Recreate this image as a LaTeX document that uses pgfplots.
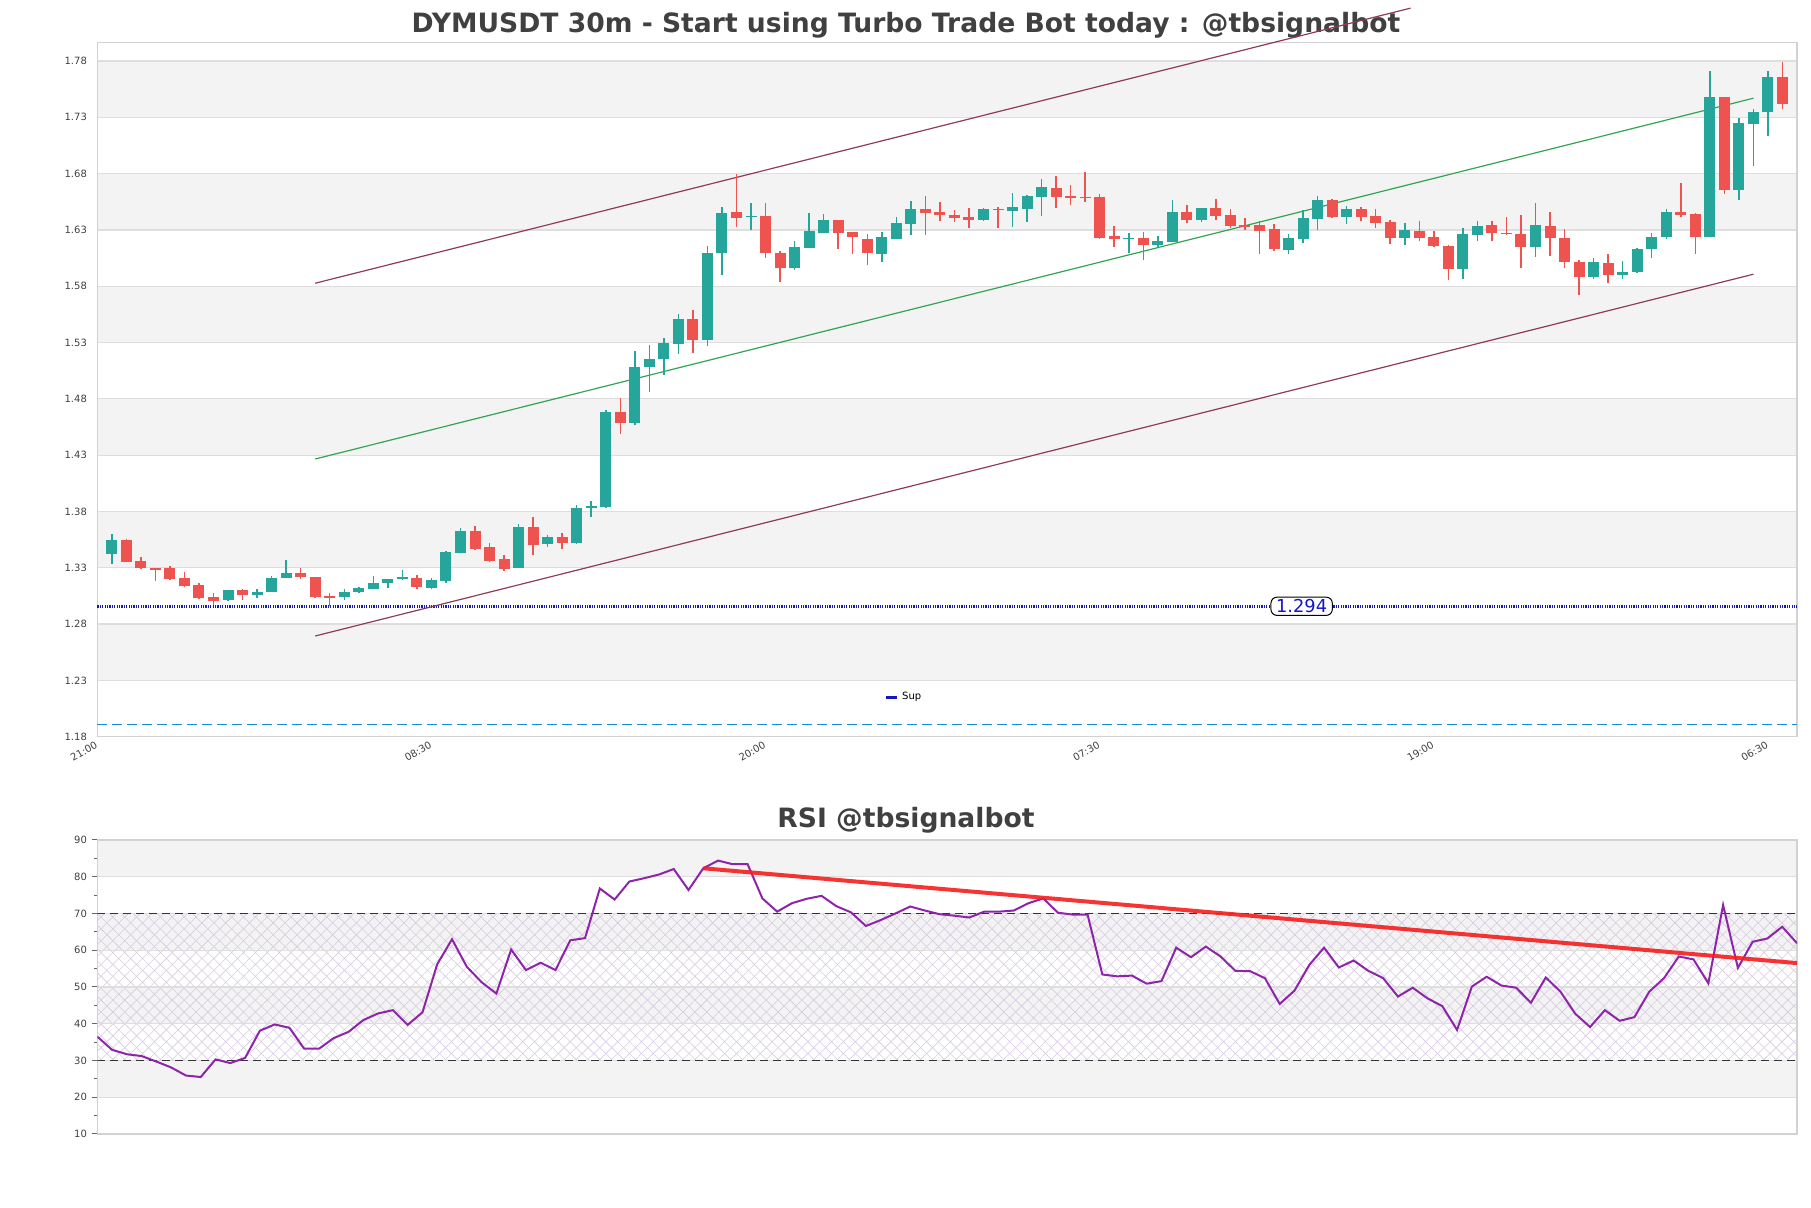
\documentclass[border=0pt]{standalone}
\usepackage{fontspec}
\setmainfont{DejaVu Sans}
\usepackage{pgfplots}
\pgfplotsset{compat=1.18}
\usepackage{pgfplotstable}
\usetikzlibrary{patterns,patterns.meta}

\definecolor{upc}{RGB}{38,166,154}
\definecolor{dnc}{RGB}{239,83,80}
\definecolor{band}{RGB}{243,243,243}
\definecolor{gridc}{RGB}{222,222,222}
\definecolor{borderc}{RGB}{210,210,210}
\definecolor{txt}{RGB}{64,64,64}
\definecolor{chan}{RGB}{140,60,90}
\definecolor{midc}{RGB}{50,165,80}
\definecolor{supc}{RGB}{20,20,200}
\definecolor{cyanl}{RGB}{25,140,215}
\definecolor{rsic}{RGB}{142,36,170}
\definecolor{hatchc}{RGB}{215,202,225}
\definecolor{trendc}{RGB}{245,30,30}

\pgfplotstableread{
i O H L C
0 1.3421 1.3602 1.3330 1.3543
8 1.3013 1.3099 1.3004 1.3099
10 1.3057 1.3116 1.3031 1.3087
11 1.3084 1.3226 1.3084 1.3211
12 1.3208 1.3365 1.3208 1.3250
16 1.3039 1.3108 1.3013 1.3087
17 1.3084 1.3131 1.3075 1.3116
18 1.3111 1.3229 1.3108 1.3167
19 1.3164 1.3202 1.3119 1.3202
20 1.3196 1.3276 1.3190 1.3214
22 1.3119 1.3211 1.3108 1.3188
23 1.3182 1.3445 1.3164 1.3436
24 1.3430 1.3649 1.3430 1.3623
28 1.3294 1.3685 1.3294 1.3658
30 1.3510 1.3587 1.3484 1.3569
32 1.3516 1.3856 1.3510 1.3830
33 1.3833 1.3892 1.3753 1.3847
34 1.3836 1.4697 1.3827 1.4682
36 1.4584 1.5224 1.4567 1.5082
37 1.5082 1.5277 1.4863 1.5153
38 1.5153 1.5345 1.5014 1.5295
39 1.5286 1.5553 1.5197 1.5508
41 1.5322 1.6162 1.5271 1.6094
42 1.6094 1.6500 1.5899 1.6449
44 1.6418 1.6538 1.6301 1.6426
47 1.5961 1.6198 1.5946 1.6148
48 1.6142 1.6449 1.6142 1.6290
49 1.6275 1.6438 1.6269 1.6387
53 1.6088 1.6281 1.6014 1.6236
54 1.6222 1.6411 1.6216 1.6361
55 1.6355 1.6556 1.6254 1.6485
60 1.6390 1.6494 1.6384 1.6485
62 1.6470 1.6630 1.6325 1.6503
63 1.6485 1.6609 1.6373 1.6600
64 1.6595 1.6751 1.6426 1.6680
70 1.6222 1.6272 1.6094 1.6231
72 1.6166 1.6242 1.6139 1.6201
73 1.6192 1.6565 1.6192 1.6458
75 1.6390 1.6494 1.6367 1.6494
81 1.6124 1.6263 1.6085 1.6228
82 1.6219 1.6476 1.6186 1.6405
83 1.6396 1.6600 1.6299 1.6565
85 1.6414 1.6512 1.6352 1.6485
89 1.6228 1.6361 1.6166 1.6299
93 1.5955 1.6319 1.5866 1.6266
94 1.6257 1.6378 1.6201 1.6337
98 1.6145 1.6535 1.6059 1.6348
102 1.5878 1.6050 1.5863 1.6018
104 1.5896 1.6021 1.5863 1.5929
105 1.5923 1.6142 1.5914 1.6134
106 1.6128 1.6276 1.6047 1.6241
107 1.6241 1.6490 1.6217 1.6455
110 1.6241 1.7712 1.6235 1.7480
112 1.6654 1.7293 1.6564 1.7248
113 1.7242 1.7373 1.6865 1.7346
114 1.7349 1.7712 1.7135 1.7658
}\upT

\pgfplotstableread{
i O H L C
1 1.3543 1.3552 1.3350 1.3350
2 1.3356 1.3398 1.3285 1.3294
3 1.3297 1.3300 1.3182 1.3279
4 1.3294 1.3315 1.3190 1.3196
5 1.3205 1.3264 1.3131 1.3137
6 1.3143 1.3167 1.3022 1.3031
7 1.3037 1.3078 1.2967 1.3004
9 1.3099 1.3108 1.3013 1.3057
13 1.3250 1.3300 1.3196 1.3217
14 1.3220 1.3220 1.3031 1.3039
15 1.3051 1.3078 1.2960 1.3037
21 1.3211 1.3238 1.3111 1.3128
25 1.3623 1.3667 1.3457 1.3469
26 1.3481 1.3516 1.3353 1.3359
27 1.3374 1.3410 1.3270 1.3288
29 1.3658 1.3747 1.3410 1.3498
31 1.3569 1.3608 1.3471 1.3522
35 1.4682 1.4806 1.4487 1.4587
40 1.5508 1.5588 1.5209 1.5322
43 1.6461 1.6796 1.6328 1.6408
45 1.6423 1.6538 1.6050 1.6094
46 1.6094 1.6115 1.5840 1.5958
50 1.6387 1.6387 1.6133 1.6275
51 1.6278 1.6278 1.6085 1.6233
52 1.6224 1.6260 1.5988 1.6097
56 1.6485 1.6600 1.6254 1.6455
57 1.6461 1.6547 1.6381 1.6429
58 1.6432 1.6476 1.6367 1.6408
59 1.6414 1.6494 1.6316 1.6390
61 1.6488 1.6503 1.6316 1.6479
65 1.6671 1.6778 1.6497 1.6595
66 1.6601 1.6698 1.6524 1.6586
67 1.6595 1.6813 1.6550 1.6586
68 1.6592 1.6618 1.6219 1.6228
69 1.6245 1.6334 1.6145 1.6222
71 1.6228 1.6281 1.6035 1.6169
74 1.6458 1.6520 1.6361 1.6390
76 1.6491 1.6574 1.6390 1.6426
77 1.6432 1.6485 1.6316 1.6334
78 1.6343 1.6405 1.6298 1.6334
79 1.6343 1.6378 1.6085 1.6290
80 1.6307 1.6352 1.6112 1.6130
84 1.6565 1.6574 1.6402 1.6414
86 1.6485 1.6503 1.6378 1.6414
87 1.6423 1.6485 1.6316 1.6361
88 1.6370 1.6387 1.6174 1.6228
90 1.6290 1.6378 1.6201 1.6228
91 1.6236 1.6290 1.6148 1.6156
92 1.6159 1.6168 1.5857 1.5955
95 1.6346 1.6378 1.6201 1.6275
96 1.6276 1.6419 1.6252 1.6261
97 1.6267 1.6437 1.5964 1.6145
99 1.6339 1.6463 1.6065 1.6226
100 1.6232 1.6312 1.5958 1.6012
101 1.6018 1.6036 1.5718 1.5878
103 1.6009 1.6089 1.5833 1.5896
108 1.6463 1.6713 1.6413 1.6431
109 1.6440 1.6449 1.6083 1.6235
111 1.7480 1.7480 1.6615 1.6654
115 1.7658 1.7792 1.7376 1.7420
}\dnT

\pgfplotstableread{
i r
0 36.5
1 32.9
2 31.7
3 31.2
4 29.7
5 28.1
6 25.9
7 25.5
8 30.3
9 29.3
10 30.7
11 38.1
12 39.8
13 38.9
14 33.2
15 33.2
16 36.1
17 37.8
18 41.0
19 42.8
20 43.7
21 39.7
22 43.1
23 56.2
24 63.0
25 55.5
26 51.3
27 48.2
28 60.2
29 54.6
30 56.6
31 54.6
32 62.7
33 63.3
34 76.8
35 73.8
36 78.7
37 79.6
38 80.6
39 82.1
40 76.4
41 82.3
42 84.4
43 83.4
44 83.4
45 74.1
46 70.5
47 72.8
48 74.0
49 74.8
50 72.0
51 70.3
52 66.6
53 68.2
54 70.0
55 71.9
56 70.8
57 69.8
58 69.4
59 68.9
60 70.5
61 70.5
62 70.8
63 72.8
64 74.1
65 70.2
66 69.7
67 69.7
68 53.4
69 52.9
70 53.1
71 50.9
72 51.6
73 60.7
74 58.1
75 61.0
76 58.3
77 54.4
78 54.3
79 52.4
80 45.4
81 49.0
82 56.0
83 60.7
84 55.3
85 57.2
86 54.4
87 52.4
88 47.4
89 49.8
90 46.9
91 44.8
92 38.3
93 50.1
94 52.8
95 50.4
96 49.8
97 45.7
98 52.6
99 48.7
100 42.7
101 39.1
102 43.7
103 40.8
104 41.8
105 48.7
106 52.4
107 58.3
108 57.5
109 51.0
110 72.3
111 55.2
112 62.3
113 63.2
114 66.4
115 61.9
}\rsiT

\newcommand\tickfont{\fontsize{5}{5.5}\selectfont}

\begin{document}
\begin{tikzpicture}
\path (0,0) rectangle (905.5pt,604pt);

% titles
\node[anchor=base, text=txt, font=\fontsize{13.3}{15}\selectfont\bfseries, inner sep=0pt] at (453pt,587.85pt) {DYMUSDT 30m - Start using Turbo Trade Bot today : @tbsignalbot};
\node[anchor=base, text=txt, font=\fontsize{13.3}{15}\selectfont\bfseries, inner sep=0pt] at (453pt,190pt) {RSI @tbsignalbot};

% ---------------- main price axis
\begin{axis}[
  at={(48.65pt,235.65pt)}, anchor=south west,
  width=849.85pt, height=347pt, scale only axis,
  xmin=-1, xmax=116, ymin=1.18, ymax=1.7963,
  clip=false, set layers,
  axis line style={borderc, line width=0.6pt},
  tick pos=left, major tick length=0pt,
  ytick={1.18,1.23,1.28,1.33,1.38,1.43,1.48,1.53,1.58,1.63,1.68,1.73,1.78},
  yticklabels={1.18,1.23,1.28,1.33,1.38,1.43,1.48,1.53,1.58,1.63,1.68,1.73,1.78},
  xtick={-1,22,45,68,91,114},
  xticklabels={21:00,08:30,20:00,07:30,19:00,06:30},
  ymajorgrids, grid style={gridc, line width=0.6pt},
  yticklabel style={font=\tickfont, text=txt, anchor=east, inner sep=0pt, xshift=-5pt},
  xticklabel style={font=\tickfont, text=txt, rotate=30, anchor=north east, inner sep=0pt, xshift=-2pt, yshift=-0.8pt},
  legend style={at={(0.475,0.057)}, anchor=center, draw=none, fill=none, font=\fontsize{5}{6}\selectfont, inner sep=0pt},
  legend image code/.code={\draw[supc, solid, line width=1.5pt] (0pt,0pt) -- (5.5pt,0pt);},
]
\begin{pgfonlayer}{axis background}
  \fill[band] (axis cs:-1,1.73) rectangle (axis cs:116,1.78);
  \fill[band] (axis cs:-1,1.63) rectangle (axis cs:116,1.68);
  \fill[band] (axis cs:-1,1.53) rectangle (axis cs:116,1.58);
  \fill[band] (axis cs:-1,1.43) rectangle (axis cs:116,1.48);
  \fill[band] (axis cs:-1,1.33) rectangle (axis cs:116,1.38);
  \fill[band] (axis cs:-1,1.23) rectangle (axis cs:116,1.28);
\end{pgfonlayer}

\addplot[supc, line width=1.3pt, dash pattern=on 0.6pt off 0.6pt] coordinates {(-1,1.2958) (116,1.2958)};
\addlegendentry{Sup}
\addplot[forget plot, cyanl, line width=0.75pt, dash pattern=on 5pt off 2.5pt] coordinates {(-1,1.191) (116,1.191)};

% channel
\addplot[forget plot, chan, line width=0.6pt] coordinates {(14,1.5827) (89.4,1.827)};
\addplot[forget plot, midc, line width=0.6pt] coordinates {(14,1.4266) (113,1.747)};
\addplot[forget plot, chan, line width=0.6pt] coordinates {(14,1.2694) (113,1.5907)};

% wicks
\addplot[forget plot, draw=none, mark=none, error bars/.cd, y dir=both, y explicit, error mark=none,
  error bar style={draw=upc, line width=0.75pt, solid}]
  table[x=i, y expr={(\thisrow{H}+\thisrow{L})/2}, y error expr={(\thisrow{H}-\thisrow{L})/2}] {\upT};
\addplot[forget plot, draw=none, mark=none, error bars/.cd, y dir=both, y explicit, error mark=none,
  error bar style={draw=dnc, line width=0.75pt, solid}]
  table[x=i, y expr={(\thisrow{H}+\thisrow{L})/2}, y error expr={(\thisrow{H}-\thisrow{L})/2}] {\dnT};
% bodies
\addplot[forget plot, draw=none, mark=none, error bars/.cd, y dir=both, y explicit, error mark=none,
  error bar style={draw=upc, line width=5.5pt, solid}]
  table[x=i, y expr={(\thisrow{O}+\thisrow{C})/2}, y error expr={max(abs(\thisrow{C}-\thisrow{O})/2,0.0004)}] {\upT};
\addplot[forget plot, draw=none, mark=none, error bars/.cd, y dir=both, y explicit, error mark=none,
  error bar style={draw=dnc, line width=5.5pt, solid}]
  table[x=i, y expr={(\thisrow{O}+\thisrow{C})/2}, y error expr={max(abs(\thisrow{C}-\thisrow{O})/2,0.0004)}] {\dnT};

\node[draw=black, line width=0.5pt, fill=white, rounded corners=3pt, text=supc,
  font=\fontsize{8.9}{10}\selectfont, inner xsep=2.6pt, inner ysep=1.3pt, text height=6.5pt, text depth=0pt]
  at (axis cs:81.9,1.2958) {1.294};
\end{axis}

% ---------------- RSI axis
\begin{axis}[
  at={(48.65pt,37pt)}, anchor=south west,
  width=849.85pt, height=147pt, scale only axis,
  xmin=0, xmax=115, ymin=10, ymax=90,
  set layers,
  axis line style={borderc, line width=0.6pt},
  xtick=\empty,
  ytick={10,20,30,40,50,60,70,80,90},
  minor ytick={15,25,35,45,55,65,75,85},
  ytick pos=left, tick align=outside,
  major tick length=2.5pt, minor tick length=1.7pt,
  ytick style={txt!80, line width=0.5pt},
  minor tick style={txt!80, line width=0.5pt},
  ymajorgrids, grid style={gridc, line width=0.6pt},
  /pgf/number format/assume math mode=true,
  yticklabel style={font=\tickfont, text=txt, anchor=east, inner sep=0pt, xshift=-2.5pt},
]
\begin{pgfonlayer}{axis background}
  \fill[band] (axis cs:0,80) rectangle (axis cs:115,90);
  \fill[band] (axis cs:0,60) rectangle (axis cs:115,70);
  \fill[band] (axis cs:0,40) rectangle (axis cs:115,50);
  \fill[band] (axis cs:0,20) rectangle (axis cs:115,30);
  \fill[pattern={Lines[angle=45,distance=4.2pt,line width=0.3pt]}, pattern color=hatchc] (axis cs:0,30) rectangle (axis cs:115,70);
  \fill[pattern={Lines[angle=-45,distance=4.2pt,line width=0.3pt]}, pattern color=hatchc] (axis cs:0,30) rectangle (axis cs:115,70);
\end{pgfonlayer}
\addplot[black!80, line width=0.6pt, dash pattern=on 4pt off 2.5pt] coordinates {(0,70) (115,70)};
\addplot[black!80, line width=0.6pt, dash pattern=on 4pt off 2.5pt] coordinates {(0,30) (115,30)};
\addplot[rsic, line width=1pt] table[x=i, y=r] {\rsiT};
\addplot[trendc, opacity=0.9, line width=2pt] coordinates {(41,82.3) (115,56.5)};
\end{axis}
\pgfresetboundingbox
\path[use as bounding box] (0,0) rectangle (905.5pt,604pt);
\end{tikzpicture}
\end{document}
